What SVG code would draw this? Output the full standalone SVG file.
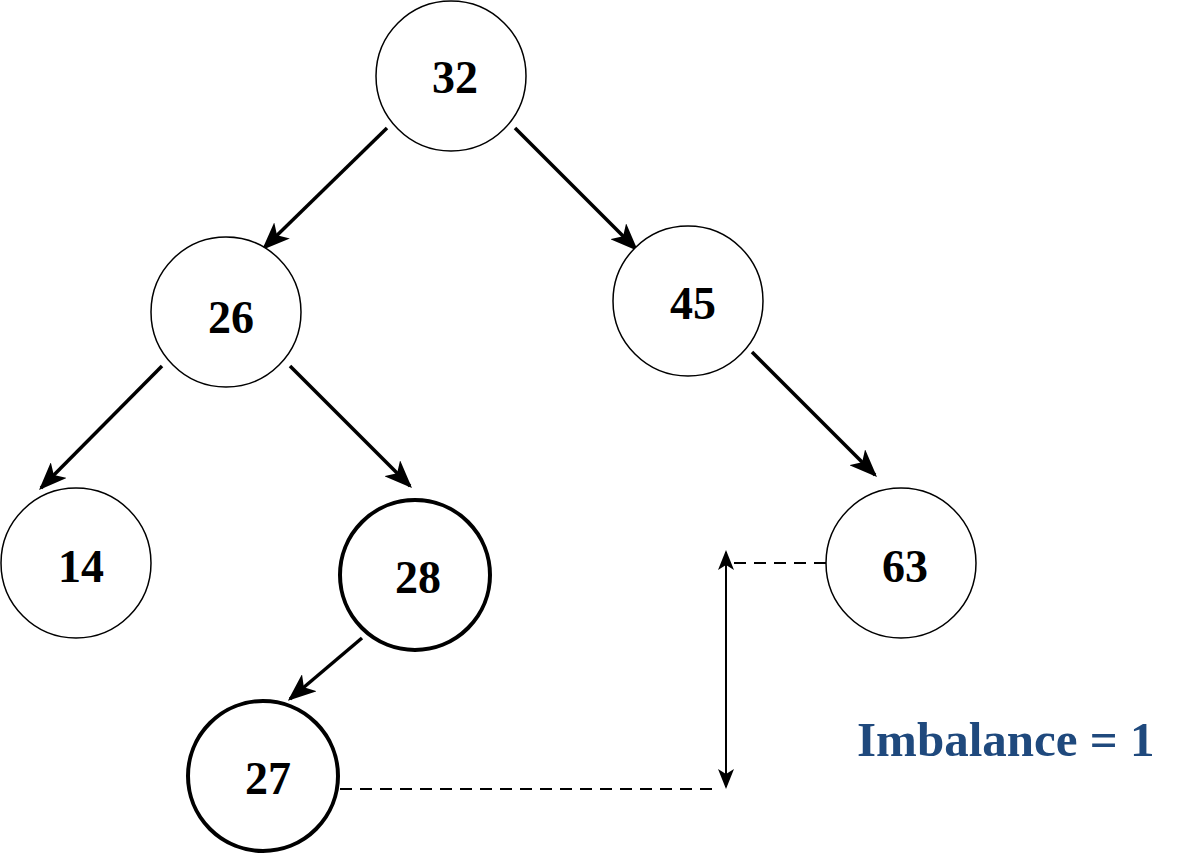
<svg xmlns="http://www.w3.org/2000/svg" width="1190" height="854" viewBox="0 0 1190 854">
  <style>
    .node circle { fill: #fff; stroke: #000; stroke-width: 1.5; }
    .node.bold circle { stroke-width: 4; }
    .node text { font-family: "Liberation Serif", serif; font-weight: bold; font-size: 46px; text-anchor: middle; fill: #000; }
    .edge { stroke: #000; stroke-width: 3.5; fill: none; marker-end: url(#head); }
    .dash { stroke: #000; stroke-width: 2; stroke-dasharray: 12 8; fill: none; }
    .dim { stroke: #000; stroke-width: 2; fill: none; marker-start: url(#small); marker-end: url(#small); }
    .label { font-family: "Liberation Serif", serif; font-weight: bold; font-size: 49px; fill: #1F497D; }
  </style>
  <defs>
    <marker id="head" viewBox="0 0 20 16" refX="18" refY="8" markerWidth="8" markerHeight="6.4" orient="auto" markerUnits="strokeWidth">
      <path d="M0,0 L20,8 L0,16 L5,8 Z" fill="#000"/>
    </marker>
    <marker id="small" viewBox="0 0 20 16" refX="18" refY="8" markerWidth="10" markerHeight="8" orient="auto-start-reverse" markerUnits="strokeWidth">
      <path d="M0,0 L20,8 L0,16 L5,8 Z" fill="#000"/>
    </marker>
  </defs>

  <g id="connectors">
    <line class="edge" x1="387" y1="128" x2="264" y2="248"/>
    <line class="edge" x1="515" y1="128" x2="636" y2="249"/>
    <line class="edge" x1="162" y1="366" x2="41" y2="488"/>
    <line class="edge" x1="290" y1="366" x2="410" y2="486"/>
    <line class="edge" x1="752" y1="352" x2="875" y2="475"/>
    <line class="edge" x1="362" y1="638" x2="290" y2="699"/>
    <line class="dash" x1="826" y1="563" x2="730" y2="563"/>
    <line class="dash" x1="340" y1="789" x2="716" y2="789"/>
    <line class="dim" x1="726" y1="552" x2="726" y2="787"/>
  </g>

  <g id="n32" class="node"><circle cx="451" cy="76" r="75"/><text x="455" y="93">32</text></g>
  <g id="n26" class="node"><circle cx="226" cy="312" r="75"/><text x="231" y="333">26</text></g>
  <g id="n45" class="node"><circle cx="688" cy="301" r="75"/><text x="693" y="319">45</text></g>
  <g id="n14" class="node"><circle cx="76" cy="563" r="75"/><text x="81" y="582">14</text></g>
  <g id="n28" class="node bold"><circle cx="415" cy="575" r="75"/><text x="418" y="593">28</text></g>
  <g id="n63" class="node"><circle cx="901" cy="563" r="75"/><text x="905" y="582">63</text></g>
  <g id="n27" class="node bold"><circle cx="263" cy="776" r="75"/><text x="268" y="794">27</text></g>

  <text id="imbalance" class="label" x="857" y="756">Imbalance = 1</text>
</svg>
